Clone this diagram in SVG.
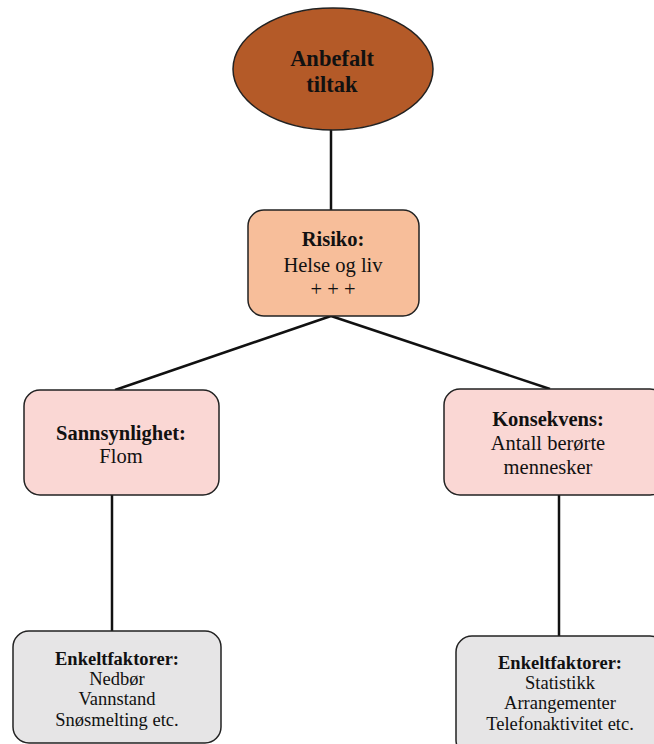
<svg xmlns="http://www.w3.org/2000/svg" width="654" height="744" viewBox="0 0 654 744">
<style>
text{font-family:"Liberation Serif","Times New Roman",serif;fill:#111;text-anchor:middle}
.b{font-weight:bold}
.m{font-size:20.5px}
.s{font-size:18.5px}
.node{stroke:#222;stroke-width:1.5}
.conn line{stroke:#111;stroke-width:2.5}
</style>
<rect width="654" height="744" fill="#fff"/>
<g class="conn">
<line x1="331" y1="128" x2="331" y2="210"/>
<line x1="331" y1="316" x2="115" y2="390"/>
<line x1="331" y1="316" x2="550" y2="389"/>
<line x1="112" y1="495" x2="112" y2="631"/>
<line x1="559" y1="495" x2="559" y2="636"/>
</g>
<g id="anbefalt">
<ellipse class="node" cx="333" cy="69" rx="100" ry="61" fill="#B45A28"/>
<text class="b" x="332" y="66" font-size="22.5">Anbefalt</text>
<text class="b" x="332" y="92" font-size="22.5">tiltak</text>
</g>
<g id="risiko">
<rect class="node" x="248" y="210" width="171" height="106" rx="16" fill="#F7BE9A"/>
<text class="b m" x="333" y="246">Risiko:</text>
<text class="m" x="333" y="272">Helse og liv</text>
<text class="m" x="333" y="296">+ + +</text>
</g>
<g id="sannsynlighet">
<rect class="node" x="24" y="390" width="195" height="105" rx="16" fill="#FAD7D4"/>
<text class="b m" x="121" y="440">Sannsynlighet:</text>
<text class="m" x="121" y="463">Flom</text>
</g>
<g id="konsekvens">
<rect class="node" x="444" y="389" width="222" height="106" rx="16" fill="#FAD7D4"/>
<text class="b m" x="548" y="426">Konsekvens:</text>
<text class="m" x="548" y="450">Antall berørte</text>
<text class="m" x="548" y="474">mennesker</text>
</g>
<g id="enkelt-venstre">
<rect class="node" x="13" y="631" width="208" height="112" rx="16" fill="#E6E5E6"/>
<text class="b s" x="117" y="665">Enkeltfaktorer:</text>
<text class="s" x="117" y="685">Nedbør</text>
<text class="s" x="117" y="705">Vannstand</text>
<text class="s" x="117" y="726">Snøsmelting etc.</text>
</g>
<g id="enkelt-hoyre">
<rect class="node" x="456" y="636" width="210" height="120" rx="16" fill="#E6E5E6"/>
<text class="b s" x="560" y="669">Enkeltfaktorer:</text>
<text class="s" x="560" y="689">Statistikk</text>
<text class="s" x="560" y="709">Arrangementer</text>
<text class="s" x="560" y="730">Telefonaktivitet etc.</text>
</g>
</svg>
